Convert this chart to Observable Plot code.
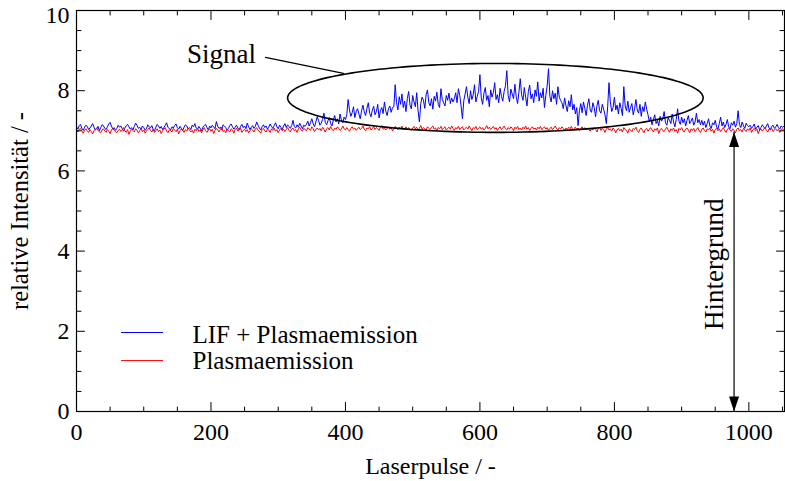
<!DOCTYPE html>
<html>
<head>
<meta charset="utf-8">
<script src="https://cdn.jsdelivr.net/npm/d3@7"></script>
<script src="https://cdn.jsdelivr.net/npm/@observablehq/plot@0.6"></script>
<style>
  html, body { margin: 0; padding: 0; background: #fff; }
</style>
</head>
<body>
<div id="chart"></div>
<script>
// ---------- data (one value every 2 laser pulses) ----------
const pulseStep = 2;

const lifPlasma = [
  7.10, 7.04, 7.13, 7.16, 7.06, 7.01, 7.09, 7.14, 7.11, 7.03,
  7.07, 7.12, 7.18, 7.09, 7.02, 7.05, 7.11, 7.00, 7.08, 7.15,
  7.13, 7.06, 7.03, 7.10, 7.17, 7.21, 7.12, 7.04, 7.08, 7.01,
  7.06, 7.14, 7.09, 7.12, 7.05, 6.99, 7.07, 7.13, 7.16, 7.10,
  7.04, 7.08, 7.02, 7.11, 7.19, 7.14, 7.06, 7.09, 7.03, 7.12,
  7.08, 7.01, 7.05, 7.15, 7.10, 7.07, 7.13, 7.04, 7.00, 7.09,
  7.16, 7.12, 7.06, 7.11, 7.03, 7.08, 7.14, 7.20, 7.09, 7.05,
  7.02, 7.10, 7.07, 7.13, 7.17, 7.08, 7.04, 7.11, 7.06, 7.01,
  7.09, 7.15, 7.12, 7.05, 7.08, 7.03, 7.14, 7.10, 7.18, 7.07,
  7.04, 7.11, 7.06, 7.00, 7.09, 7.13, 7.16, 7.08, 7.02, 7.12,
  7.07, 7.14, 7.10, 7.05, 7.23, 7.11, 7.06, 7.09, 7.03, 7.15,
  7.12, 7.08, 7.01, 7.06, 7.13, 7.17, 7.10, 7.04, 7.09, 7.14,
  7.07, 7.02, 7.11, 7.16, 7.08, 7.12, 7.05, 7.19, 7.10, 7.03,
  7.09, 7.13, 7.06, 7.11, 7.22, 7.14, 7.07, 7.02, 7.10, 7.15,
  7.08, 7.12, 7.04, 7.09, 7.17, 7.11, 7.06, 7.13, 7.20, 7.10,
  7.05, 7.14, 7.09, 7.03, 7.12, 7.18, 7.08, 7.15, 7.11, 7.06,
  7.13, 7.26, 7.10, 7.07, 7.15, 7.09, 7.19, 7.12, 7.05, 7.14,
  7.11,
  7.16, 7.24, 7.12, 7.20, 7.30, 7.18, 7.10, 7.22, 7.35, 7.26,
  7.14, 7.19, 7.28, 7.44, 7.21, 7.15, 7.25, 7.33, 7.18, 7.12,
  7.27, 7.38, 7.22, 7.30, 7.17, 7.42, 7.26, 7.20, 7.34, 7.28,
  7.40, 7.78, 7.52, 7.36, 7.45, 7.60, 7.33, 7.48, 7.55, 7.42,
  7.30, 7.50, 7.64, 7.47, 7.38, 7.56, 7.70, 7.44, 7.35, 7.52,
  7.61, 7.40, 7.48, 7.66, 7.32, 7.50, 7.58, 7.43, 7.72, 7.49,
  7.38, 7.55, 7.62, 7.46, 7.58,
  7.60, 8.15, 7.70, 7.52, 7.85, 7.66, 7.92, 7.58, 7.74, 7.48,
  7.80, 7.98, 7.64, 7.55, 7.88, 7.72, 7.60, 7.95, 7.50, 7.22,
  7.68, 7.84, 7.76, 7.56, 7.90, 8.02, 7.70, 7.62, 7.80, 7.54,
  7.86, 7.74, 7.96, 7.66, 7.58, 8.05, 7.78, 7.70, 7.62, 7.88,
  7.76, 7.94, 7.68, 7.82, 7.72,
  7.80, 7.95, 7.70, 8.05, 7.88, 7.62, 7.30, 7.75, 7.92, 8.10,
  7.84, 7.68, 8.00, 7.78, 7.90, 8.15, 7.72, 7.86, 7.98, 8.40,
  7.82, 7.66, 7.94, 8.08, 7.76, 7.88, 7.60, 8.02, 7.84, 7.96,
  8.20, 7.78, 7.90, 7.70, 8.06, 7.86, 7.74, 7.98, 8.12, 8.50,
  7.88, 7.72, 8.04, 7.92, 7.80, 8.16, 7.85, 7.68, 7.96, 8.30,
  7.90, 7.76, 8.08, 7.84, 7.62, 7.98, 8.14, 7.80, 7.92, 7.70,
  8.02, 7.86, 8.22, 7.74, 7.95, 7.82, 8.06, 7.58, 7.88, 8.12,
  8.55, 7.86, 7.72, 8.00, 7.80, 7.94, 7.66, 8.10, 7.84, 7.76,
  7.70, 7.55, 7.82, 7.62, 7.48, 7.75, 7.60, 7.90, 7.52, 7.66,
  7.42, 7.58, 7.13, 7.50, 7.68, 7.45, 7.72, 7.56, 7.38, 7.64,
  7.80, 7.52, 7.46, 7.70, 7.58, 7.35, 7.62, 7.76, 7.50, 7.44,
  7.66, 7.54, 7.40, 7.18, 7.60, 8.20, 7.72, 7.48, 7.58, 7.84,
  7.52, 7.64, 7.42, 7.70, 7.56, 7.38, 8.10, 7.62, 7.50, 7.74,
  7.46, 7.58, 7.68, 7.40, 7.55, 7.78, 7.52, 7.44, 7.66, 7.36,
  7.60, 7.48, 7.72, 7.54, 7.40,
  7.22, 7.34, 7.15, 7.28, 7.40, 7.18, 7.26, 7.12, 7.36, 7.24,
  7.30, 7.48, 7.20, 7.14, 7.32, 7.26, 7.18, 7.42, 7.22, 7.10,
  7.28, 7.55, 7.24, 7.16, 7.34, 7.20, 7.30, 7.12, 7.26, 7.38,
  7.18, 7.24, 7.32, 7.14, 7.22, 7.44, 7.20, 7.28, 7.15, 7.26,
  7.14, 7.24, 7.08, 7.18, 7.30, 7.12, 7.06, 7.20, 7.15, 7.26,
  7.10, 7.04, 7.18, 7.34, 7.12, 7.22, 7.08, 7.16, 7.28, 7.10,
  7.05, 7.20, 7.14, 7.24, 7.09, 7.18, 7.50, 7.16, 7.08, 7.22,
  7.12, 7.06, 7.19, 7.13, 7.10,
  7.14, 7.06, 7.11, 7.17, 7.04, 7.09, 7.13, 7.02, 7.08, 7.15,
  7.10, 7.05, 7.12, 7.18, 7.07, 7.03, 7.11, 7.14, 7.06, 7.10,
  7.16, 7.08, 7.04, 7.12, 7.09, 7.11
];

const plasma = [
  7.02, 6.97, 7.04, 7.06, 6.99, 6.94, 7.01, 7.05, 7.00, 6.96,
  7.03, 6.98, 6.92, 7.00, 7.04, 7.07, 7.01, 6.97, 6.95, 7.02,
  7.05, 7.00, 6.96, 7.03, 6.99, 6.93, 7.02, 7.06, 7.01, 6.98,
  6.95, 7.01, 7.04, 6.98, 7.02, 7.08, 7.00, 6.96, 7.03, 6.91,
  6.99, 7.04, 7.01, 6.97, 7.05, 7.02, 6.95, 7.00, 7.06, 6.98,
  7.02, 6.94, 6.99, 7.03, 7.07, 7.01, 6.97, 7.04, 6.96, 7.00,
  7.05, 6.98, 7.02, 6.93, 7.00, 7.04, 7.08, 6.99, 6.95, 7.03,
  7.01, 6.97, 7.06, 7.02, 6.98, 7.04, 6.92, 7.00, 7.05, 7.01,
  6.96, 7.03, 6.99, 7.07, 7.02, 6.97, 7.01, 6.94, 7.04, 7.00,
  7.06, 6.98, 7.02, 6.95, 7.03, 7.08, 7.00, 6.96, 7.02, 7.05,
  6.99, 7.04, 6.93, 7.01, 7.06, 7.02, 6.97, 7.03, 7.09, 6.98,
  7.01, 6.95, 7.04, 7.00, 6.97, 7.05, 7.02, 6.94, 7.03, 7.07,
  6.99, 7.02, 7.06, 6.96, 7.01, 7.04, 6.98, 7.03, 6.95, 7.00,
  7.05, 7.02, 6.97, 7.04, 7.08, 7.01, 6.99, 6.94, 7.03, 7.06,
  7.00, 6.97, 7.04, 7.02, 6.96, 7.05, 7.01, 7.07, 6.99, 7.03,
  6.95, 7.02, 7.06, 7.00, 7.04, 6.98, 7.03, 7.08, 7.01, 6.97,
  7.04, 7.07, 7.00, 7.03, 6.96, 7.05, 7.09, 7.02, 6.99, 7.06,
  7.03, 7.00, 7.08, 7.04, 7.01, 7.10, 7.05, 6.98, 7.03, 7.07,
  7.02, 7.06, 7.00, 7.09, 7.04, 6.97, 7.05, 7.08, 7.02, 7.11,
  7.04, 7.00, 7.07, 7.03, 7.10, 7.06, 7.01, 7.04, 7.12, 7.05,
  7.02, 7.08, 7.03, 6.99, 7.06, 7.10, 7.04, 7.07, 7.01, 7.05,
  7.09, 7.03, 7.06, 7.12, 7.04, 7.00, 7.07, 7.05, 7.10, 7.02,
  7.06, 7.11, 7.03, 7.08, 7.05, 7.01, 7.09, 7.13, 7.04, 7.07,
  7.02, 7.06, 7.10, 7.04, 7.08, 7.00, 7.05, 7.11, 7.07, 7.03,
  7.09, 7.05, 7.12, 7.02, 7.06, 7.10, 7.03, 7.08, 7.04, 7.01,
  7.07, 7.11, 7.05, 7.09, 7.02, 7.06, 7.13, 7.04, 7.08, 7.05,
  7.01, 7.10, 7.06, 7.03, 7.09, 7.12, 7.04, 7.07, 7.00, 7.08,
  7.05, 7.11, 7.03, 7.07, 7.10, 7.02, 7.06, 7.09, 7.04, 7.12,
  7.06, 7.01, 7.08, 7.05, 7.11, 7.03, 7.07, 7.10, 7.02, 7.06,
  7.09, 7.04, 7.12, 7.06, 7.00, 7.08, 7.05, 7.11, 7.03, 7.07,
  7.10, 7.04, 7.08, 7.02, 7.06, 7.13, 7.05, 7.09, 7.03, 7.07,
  7.11, 7.04, 7.08, 7.01, 7.06, 7.10, 7.03, 7.07, 7.12, 7.05,
  7.02, 7.08, 7.04, 7.10, 7.06, 7.00, 7.09, 7.05, 7.11, 7.03,
  7.07, 7.02, 7.09, 7.05, 7.12, 7.04, 7.08, 7.01, 7.06, 7.10,
  7.04, 7.07, 7.02, 7.09, 7.05, 7.11, 7.03, 7.06, 7.10, 7.04,
  7.08, 7.01, 7.06, 7.09, 7.03, 7.07, 7.12, 7.05, 7.02, 7.08,
  7.04, 7.10, 7.06, 7.00, 7.07, 7.03, 7.09, 7.05, 7.11, 7.02,
  7.06, 7.09, 7.03, 7.07, 7.01, 7.05, 7.10, 7.04, 7.08, 7.02,
  7.07, 7.03, 6.99, 7.06, 7.02, 7.08, 7.04, 6.97, 7.05, 7.09,
  7.01, 7.06, 7.03, 6.96, 7.04, 7.08, 7.02, 7.05, 6.99, 7.07,
  7.03, 6.95, 7.02, 7.06, 7.00, 7.04, 6.97, 7.08, 7.03, 7.01,
  6.94, 7.05, 7.02, 6.98, 7.06, 7.03, 7.09, 7.00, 6.96, 7.04,
  7.07, 7.01, 6.95, 7.03, 7.06, 6.99, 7.04, 7.08, 7.02, 6.97,
  7.05, 7.01, 7.07, 6.93, 7.03, 7.06, 7.00, 6.98, 7.04, 7.09,
  7.02, 6.96, 7.05, 7.01, 7.07, 6.99, 7.03, 6.94, 7.06, 7.02,
  7.08, 7.00, 6.97, 7.04, 7.07, 7.02, 6.95, 7.05, 7.01, 7.06,
  6.98, 7.03, 7.08, 7.00, 6.96, 7.04, 7.07, 7.01, 6.97, 7.05,
  7.02, 7.07, 6.99, 7.04, 6.94, 7.03, 7.06, 7.00, 7.05, 6.98,
  7.03, 7.08, 7.01, 6.96, 7.04, 7.07, 7.02, 6.99, 7.05, 7.01,
  6.95, 7.04, 7.07, 7.00, 7.03, 6.97, 7.06, 7.02, 6.98, 7.05,
  7.01, 7.07, 6.96, 7.03, 7.06, 7.00, 7.04, 6.93, 7.02, 7.05,
  6.99, 7.04, 7.08, 7.01, 6.97, 7.05, 7.02, 7.06, 6.98, 7.03,
  7.05, 7.00, 7.04, 6.96, 7.03, 7.06, 7.01
];

const seriesNames = ["LIF + Plasmaemission", "Plasmaemission"];
const seriesColors = ["#0000ff", "#ff0000"];

const xMajorTicks = [0, 200, 400, 600, 800, 1000];
const yMajorTicks = [0, 2, 4, 6, 8, 10];
const xLabel = "Laserpulse / -";
const yLabel = "relative Intensität / -";
const signalLabel = "Signal";
const backgroundLabel = "Hintergrund";

// ---------- annotation geometry (data units) ----------
const xDomain = [0, 1053];
const yDomain = [0, 10];
const signalEllipse = {cx: 623, cy: 7.82, rx: 309, ry: 0.86};
const signalLeader = [{x: 281, y: 8.83}, {x: 397, y: 8.43}];
const signalText = {x: 267, y: 8.70};
const backgroundArrow = {x: 978, y1: 0, y2: 6.97};
const backgroundText = {x: 961, y: 3.67};
const legendLine = {x1: 67, x2: 129.5};
const legendRows = [{y: 1.97, ty: 1.72}, {y: 1.27, ty: 1.07}];
const legendTextX = 172.5;

// ---------- build tables ----------
const rows = [];
lifPlasma.forEach((v, i) => rows.push({pulse: i * pulseStep, value: v, series: seriesNames[0]}));
plasma.forEach((v, i) => rows.push({pulse: i * pulseStep, value: v, series: seriesNames[1]}));

const ellipsePts = d3.range(0, 361, 2).map(a => {
  const t = a * Math.PI / 180;
  return {x: signalEllipse.cx + signalEllipse.rx * Math.cos(t), y: signalEllipse.cy + signalEllipse.ry * Math.sin(t)};
});

const xMinor = d3.range(0, xDomain[1] + 1, 50).filter(v => !xMajorTicks.includes(v));
const yMinor = d3.range(0, 10.01, 0.5).filter(v => !yMajorTicks.includes(v));

const tickShape = {draw(context, l) { context.moveTo(0, 0); context.lineTo(0, -l); }};
const upHead = {draw(ctx) { ctx.moveTo(0, 0); ctx.lineTo(-5, 15); ctx.lineTo(5, 15); ctx.closePath(); }};
const downHead = {draw(ctx) { ctx.moveTo(0, 0); ctx.lineTo(-5, -15); ctx.lineTo(5, -15); ctx.closePath(); }};

function ticksX(values, anchor, len) {
  return Plot.vectorX(values, {frameAnchor: anchor, rotate: anchor === "bottom" ? 0 : 180,
    length: len, anchor: "start", shape: tickShape, stroke: "black", strokeWidth: 1});
}
function ticksY(values, anchor, len) {
  return Plot.vectorY(values, {frameAnchor: anchor, rotate: anchor === "left" ? 90 : -90,
    length: len, anchor: "start", shape: tickShape, stroke: "black", strokeWidth: 1});
}

const font = "'Liberation Serif', 'Times New Roman', Times, serif";

const chart = Plot.plot({
  width: 785,
  height: 481,
  marginLeft: 76,
  marginRight: 1,
  marginTop: 10,
  marginBottom: 70,
  x: {domain: xDomain},
  y: {domain: yDomain},
  style: {fontFamily: font, fontSize: "24px", background: "white", color: "black", overflow: "visible"},
  marks: [
    Plot.line(rows.filter(d => d.series === seriesNames[0]), {x: "pulse", y: "value", stroke: seriesColors[0], strokeWidth: 1}),
    Plot.line(rows.filter(d => d.series === seriesNames[1]), {x: "pulse", y: "value", stroke: seriesColors[1], strokeWidth: 1}),
    // signal ellipse and leader
    Plot.line(ellipsePts, {x: "x", y: "y", stroke: "black", strokeWidth: 1.6}),
    Plot.line(signalLeader, {x: "x", y: "y", stroke: "black", strokeWidth: 1.2}),
    Plot.text([signalLabel], {x: signalText.x, y: signalText.y, text: d => d, textAnchor: "end", lineAnchor: "bottom", fontSize: 27, fill: "black"}),
    // background arrow
    Plot.ruleX([backgroundArrow], {x: "x", y1: "y1", y2: "y2", stroke: "black", strokeWidth: 1.2}),
    Plot.dot([backgroundArrow], {x: "x", y: "y2", symbol: upHead, fill: "black", stroke: null, r: 5}),
    Plot.dot([backgroundArrow], {x: "x", y: "y1", symbol: downHead, fill: "black", stroke: null, r: 5}),
    Plot.text([backgroundLabel], {x: backgroundText.x, y: backgroundText.y, text: d => d, rotate: -90, textAnchor: "middle", lineAnchor: "bottom", fontSize: 27, fill: "black"}),
    // legend
    Plot.ruleY(legendRows.map((r, i) => ({y: r.y, i})), {y: "y", x1: legendLine.x1, x2: legendLine.x2, stroke: d => seriesColors[d.i], strokeWidth: 1}),
    Plot.text(legendRows.map((r, i) => ({y: r.ty, t: seriesNames[i]})), {x: legendTextX, y: "y", text: "t", textAnchor: "start", lineAnchor: "bottom", fontSize: 25, fill: "black"}),
    // ticks (inward, on all four sides)
    ticksX(xMajorTicks, "bottom", 9), ticksX(xMinor, "bottom", 4.5),
    ticksX(xMajorTicks, "top", 9), ticksX(xMinor, "top", 4.5),
    ticksY(yMajorTicks, "left", 8), ticksY(yMinor, "left", 4.5),
    ticksY(yMajorTicks, "right", 8), ticksY(yMinor, "right", 4.5),
    // tick labels
    Plot.axisX({ticks: xMajorTicks, tickSize: 0, tickPadding: 11, fontSize: 24, label: null, tickFormat: d => String(d)}),
    Plot.axisY({ticks: yMajorTicks.filter(v => v < 10), tickSize: 0, tickPadding: 7, fontSize: 24, label: null, tickFormat: d => String(d)}),
    Plot.axisY({ticks: [10], tickSize: 0, tickPadding: 7, fontSize: 24, label: null, dy: 5, tickFormat: d => String(d)}),
    // axis titles
    Plot.text([xLabel], {frameAnchor: "bottom", dy: 62, text: d => d, lineAnchor: "bottom", textAnchor: "middle", fontSize: 24, fill: "black"}),
    Plot.text([yLabel], {frameAnchor: "left", dx: -49, text: d => d, rotate: -90, lineAnchor: "bottom", textAnchor: "middle", fontSize: 24.5, fill: "black"}),
    Plot.frame({stroke: "black", strokeWidth: 1.2})
  ]
});
document.getElementById("chart").appendChild(chart);
</script>
</body>
</html>
